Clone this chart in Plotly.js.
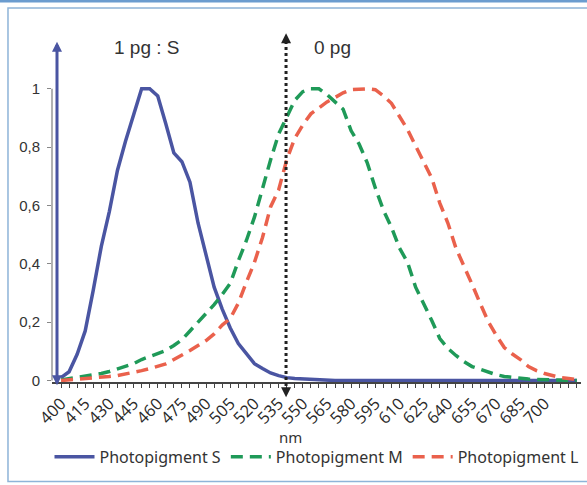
<!DOCTYPE html>
<html>
<head>
<meta charset="utf-8">
<script src="https://cdn.plot.ly/plotly-3.0.1.min.js"></script>
<style>html,body{margin:0;padding:0;background:#fff;}#chart{width:587px;height:485px;}</style>
</head>
<body>
<div id="chart"></div>
<script>
const wavelengths = [400,405,410,415,420,425,430,435,440,445,450,455,460,465,470,475,480,485,490,495,500,505,510,515,520,525,530,535,540,545,550,555,560,565,570,575,580,585,590,595,600,605,610,615,620,625,630,635,640,645,650,655,660,665,670,675,680,685,690,695,700,705,710,715,720];
const photoS = [0.01,0.03,0.09,0.17,0.31,0.46,0.58,0.72,0.82,0.91,1.0,1.0,0.975,0.88,0.78,0.75,0.68,0.54,0.43,0.32,0.245,0.18,0.127,0.093,0.058,0.041,0.026,0.017,0.01,0.007,0.005,0.003,0.002,0.001,0,0,0,0,0,0,0,0,0,0,0,0,0,0,0,0,0,0,0,0,0,0,0,0,0,0,0,0,0,0,0];
const photoM = [0.002,0.006,0.01,0.014,0.019,0.024,0.031,0.041,0.048,0.058,0.072,0.082,0.093,0.103,0.12,0.14,0.17,0.2,0.23,0.26,0.295,0.333,0.41,0.48,0.56,0.66,0.756,0.845,0.9,0.96,0.99,1.0,1.0,0.98,0.955,0.93,0.856,0.81,0.746,0.66,0.584,0.525,0.454,0.405,0.32,0.265,0.206,0.144,0.11,0.086,0.065,0.048,0.038,0.027,0.02,0.014,0.01,0.007,0.005,0.004,0.003,0.002,0.001,0.001,0];
const photoL = [0,0.002,0.004,0.007,0.009,0.01,0.014,0.017,0.022,0.027,0.034,0.041,0.048,0.057,0.072,0.086,0.103,0.12,0.137,0.16,0.19,0.213,0.265,0.337,0.405,0.49,0.595,0.653,0.756,0.83,0.876,0.914,0.935,0.955,0.97,0.986,0.997,1.0,1.0,0.997,0.976,0.95,0.907,0.86,0.804,0.75,0.694,0.608,0.54,0.454,0.395,0.33,0.265,0.203,0.155,0.113,0.091,0.072,0.048,0.034,0.024,0.017,0.01,0.007,0.003];
const seriesNames = ['Photopigment S','Photopigment M','Photopigment L'];
const xTickVals = [400,415,430,445,460,475,490,505,520,535,550,565,580,595,610,625,640,655,670,685,700];
const yTickVals = [0,0.2,0.4,0.6,0.8,1];
const yTickText = ['0','0,2','0,4','0,6','0,8','1'];
const labelS = '1 pg : S';
const labelRef = '0 pg';
const refWavelength = 539.6;
const xTitle = 'nm';

const blue = '#4a55a2', green = '#1f9a58', red = '#ea614c';
const traces = [
  {x: wavelengths, y: photoS, name: seriesNames[0], mode: 'lines', line: {color: blue, width: 3.5}},
  {x: wavelengths, y: photoM, name: seriesNames[1], mode: 'lines', line: {color: green, width: 3.5, dash: '12px,7px'}},
  {x: wavelengths, y: photoL, name: seriesNames[2], mode: 'lines', line: {color: red, width: 3.5, dash: '12px,7px'}}
];

const layout = {
  width: 587, height: 485,
  margin: {l: 52, r: 6, t: 45, b: 103},
  paper_bgcolor: '#fff', plot_bgcolor: '#fff',
  showlegend: true,
  legend: {orientation: 'h', x: 0.5, xanchor: 'center', y: -0.222, yanchor: 'middle',
           font: {family: 'Noto Sans', size: 16, color: '#333'}, itemwidth: 40, tracegroupgap: 0},
  xaxis: {range: [394.4, 722.6], tickmode: 'array', tickvals: xTickVals, ticktext: xTickVals.map(String),
          tickangle: -45, ticks: 'outside', ticklen: 4, tickcolor: '#444', tickwidth: 1,
          minor: {tickvals: wavelengths, ticks: 'outside', ticklen: 4, tickcolor: '#444'},
          showline: true, linecolor: '#444', linewidth: 1.5, showgrid: false, zeroline: false,
          tickfont: {family: 'Open Sans', size: 16.5, color: '#2a2a2a'}},
  yaxis: {range: [-0.005, 1.15], tickmode: 'array', tickvals: yTickVals, ticktext: yTickText,
          ticks: 'outside', ticklen: 4, tickcolor: '#888', showline: false, showgrid: false, zeroline: false,
          ticklabelstandoff: 4,
          tickfont: {family: 'Liberation Sans', size: 15, color: '#333'}},
  shapes: [
    {type: 'line', xref: 'paper', yref: 'y', x0: 0, x1: 0, y0: 0, y1: 1, line: {color: '#999', width: 1.5}},
    {type: 'line', xref: 'x', yref: 'paper', x0: 397.5, x1: 397.5, y0: -0.003, y1: 1.0, line: {color: blue, width: 3}},
    {type: 'line', xref: 'x', yref: 'paper', x0: refWavelength, x1: refWavelength, y0: -0.03, y1: 1.02, line: {color: '#222', width: 3, dash: 'dot'}},
    {type: 'rect', xref: 'paper', yref: 'paper', x0: -0.0832, x1: 1.2, y0: -0.295, y1: 1.1098, line: {color: '#8eb4d8', width: 1.5}, fillcolor: 'rgba(0,0,0,0)'},
    {type: 'line', xref: 'paper', yref: 'paper', x0: -0.2, x1: 1.2, y0: 1.1306, y1: 1.1306, line: {color: '#6b9ccf', width: 3}}
  ],
  annotations: [
    {xref: 'x', yref: 'paper', x: 397.5, y: 1.01, ax: 0, ay: 12, showarrow: true, arrowhead: 2, arrowsize: 1, arrowwidth: 2, arrowcolor: blue, text: ''},
    {xref: 'x', yref: 'paper', x: 397.5, y: -0.01, ax: 0, ay: -10, showarrow: true, arrowhead: 2, arrowsize: 1, arrowwidth: 2, arrowcolor: blue, text: ''},
    {xref: 'x', yref: 'paper', x: refWavelength, y: 1.035, ax: 0, ay: 10, showarrow: true, arrowhead: 2, arrowsize: 1, arrowwidth: 2, arrowcolor: '#222', text: ''},
    {xref: 'x', yref: 'paper', x: refWavelength, y: -0.045, ax: 0, ay: -10, showarrow: true, arrowhead: 2, arrowsize: 1, arrowwidth: 2, arrowcolor: '#222', text: ''},
    {xref: 'paper', yref: 'paper', x: 0.18, y: 0.994, text: labelS, showarrow: false, xanchor: 'center', yanchor: 'middle', font: {family: 'Liberation Sans', size: 19, color: '#333'}},
    {xref: 'paper', yref: 'paper', x: 0.531, y: 0.994, text: labelRef, showarrow: false, xanchor: 'center', yanchor: 'middle', font: {family: 'Liberation Sans', size: 19, color: '#333'}},
    {xref: 'paper', yref: 'paper', x: 0.45, y: -0.163, text: xTitle, showarrow: false, xanchor: 'center', yanchor: 'middle', font: {family: 'Noto Sans', size: 15, color: '#333'}}
  ]
};

Plotly.newPlot('chart', traces, layout, {staticPlot: true, displayModeBar: false});
</script>
</body>
</html>
